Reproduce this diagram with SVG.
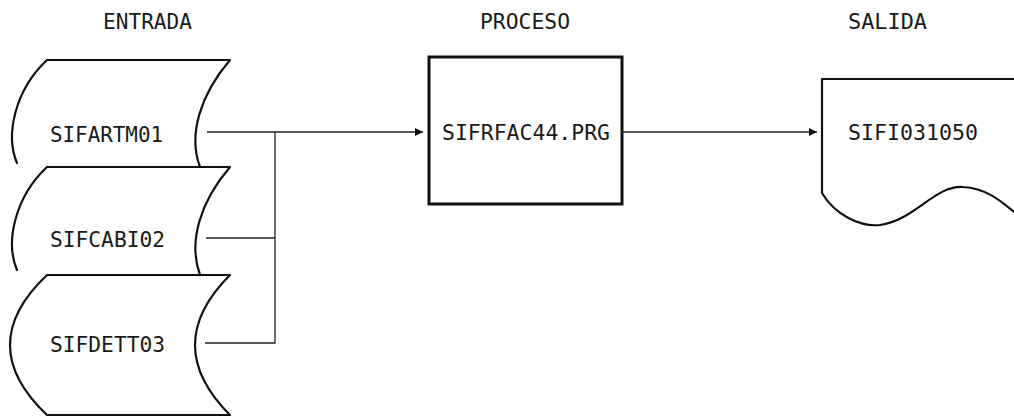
<svg xmlns="http://www.w3.org/2000/svg" width="1014" height="418" viewBox="0 0 1014 418">
<defs>
<style>
.shape{fill:none;stroke:#111;stroke-width:2.2;stroke-linecap:round;stroke-linejoin:round}
.box{fill:none;stroke:#111;stroke-width:3}
.con{fill:none;stroke:#222;stroke-width:1.3}
.t{font-family:"DejaVu Sans Mono","Liberation Mono",monospace;font-size:22px;fill:#1a1a1a}
.h{font-family:"DejaVu Sans Mono","Liberation Mono",monospace;font-size:21px;fill:#1a1a1a}
</style>
<marker id="arr" viewBox="0 0 10 10" refX="10" refY="5" markerWidth="8" markerHeight="11" markerUnits="userSpaceOnUse" orient="auto">
<path d="M0,0 L10,5 L0,10 Z" fill="#111"/>
</marker>
</defs>
<rect width="1014" height="418" fill="#fff"/>
<g id="headings">
<text class="h" x="103" y="29" textLength="89" lengthAdjust="spacingAndGlyphs">ENTRADA</text>
<text class="h" x="480" y="29" textLength="90" lengthAdjust="spacingAndGlyphs">PROCESO</text>
<text class="h" x="848" y="29" textLength="79" lengthAdjust="spacingAndGlyphs">SALIDA</text>
</g>
<g id="sifartm01">
<path class="shape" d="M47,60 L230,60 M230,60 C200,95 188,135 200,167 M47,60 C15,90 5,135 17,163"/>
<text class="t" x="50" y="142" textLength="113" lengthAdjust="spacingAndGlyphs">SIFARTM01</text>
</g>
<g id="sifcabi02">
<path class="shape" d="M47,167 L230,167 M230,167 C200,202 188,242 200,275 M47,167 C15,197 5,242 17,270"/>
<text class="t" x="50" y="247" textLength="115" lengthAdjust="spacingAndGlyphs">SIFCABI02</text>
</g>
<g id="sifdett03">
<path class="shape" d="M47,275 L230,275 Q160,345 230,415 L47,415 Q-27,345 47,275 Z"/>
<text class="t" x="50" y="352" textLength="115" lengthAdjust="spacingAndGlyphs">SIFDETT03</text>
</g>
<g id="sifrfac44">
<rect class="box" x="429" y="57" width="193" height="147"/>
<text class="t" x="442" y="140" textLength="168" lengthAdjust="spacingAndGlyphs">SIFRFAC44.PRG</text>
</g>
<g id="sifi031050">
<path class="shape" d="M1014,79 L822,79 L822,193 C835,215 860,227 880,225 C915,220 935,185 963,187 C985,188 1000,200 1014,212"/>
<text class="t" x="848" y="140" textLength="130" lengthAdjust="spacingAndGlyphs">SIFI031050</text>
</g>
<g id="connectors">
<path class="con" d="M207,132 L423,132" marker-end="url(#arr)"/>
<path class="con" d="M275,132 L275,343 L205,343"/>
<path class="con" d="M206,238 L275,238"/>
<path class="con" d="M622,132 L817,132" marker-end="url(#arr)"/>
</g>
</svg>
